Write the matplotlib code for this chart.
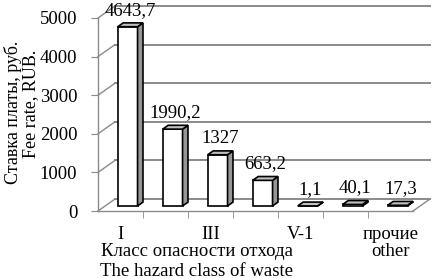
import matplotlib
matplotlib.use("Agg")
import matplotlib.pyplot as plt
from matplotlib.patches import Polygon

categories = ["I", "II", "III", "IV", "V-1", "V-2", "прочие\nother"]
values = [4643.7, 1990.2, 1327, 663.2, 1.1, 40.1, 17.3]
value_labels = ["4643,7", "1990,2", "1327", "663,2", "1,1", "40,1", "17,3"]
yticks = [0, 1000, 2000, 3000, 4000, 5000]

plt.rcParams['font.family'] = ['Liberation Serif', 'DejaVu Serif']
FS = 13.5

W, H = 435, 278
fig = plt.figure(figsize=(W / 100, H / 100), dpi=100)
fig.patch.set_facecolor('white')

# front plane of the pseudo-3D box, in pixels
left_px, right_px, base_px, top_px = 98, 413, 211, 18
ax = fig.add_axes([left_px / W, (H - base_px) / H, (right_px - left_px) / W, (base_px - top_px) / H])
n = len(categories)
x0, x1 = -0.5, n - 0.5
ax.set_xlim(x0, x1)
ax.set_ylim(0, 5000)
ax.patch.set_visible(False)

px_per_cat = (right_px - left_px) / n
px_per_val = (base_px - top_px) / 5000
DX = 17 / px_per_cat
DY = 12 / px_per_val

grid_c = '#8a8a8a'
# back wall gridlines + left wall diagonals
for v in yticks:
    ax.plot([x0 + DX, x1 + DX], [v + DY, v + DY], color=grid_c, lw=1.4, clip_on=False, zorder=1)
    ax.plot([x0, x0 + DX], [v, v + DY], color=grid_c, lw=1.0, clip_on=False, zorder=1)
# floor right edge
ax.plot([x1, x1 + DX], [0, DY], color=grid_c, lw=1.0, clip_on=False, zorder=1)

for s in ['top', 'right']:
    ax.spines[s].set_visible(False)
for s in ['left', 'bottom']:
    ax.spines[s].set_color(grid_c)
    ax.spines[s].set_linewidth(1.0)

# bars
f1, f2 = 0.42, 0.74
bw = 0.44
for i, v in enumerate(values):
    xl = i - bw / 2 + f1 * DX
    xr = xl + bw
    b1 = f1 * DY
    b2 = f2 * DY
    d = (f2 - f1) * DX
    ax.bar(xl, v, width=bw, bottom=b1, align='edge', color='white', edgecolor='black',
           lw=1.2, zorder=3, clip_on=False)
    side = Polygon([(xr, b1), (xr + d, b2), (xr + d, v + b2), (xr, v + b1)], closed=True,
                   facecolor='#969696', edgecolor='black', lw=1.2, zorder=3, clip_on=False)
    top = Polygon([(xl, v + b1), (xr, v + b1), (xr + d, v + b2), (xl + d, v + b2)], closed=True,
                  facecolor='#c0c0c0', edgecolor='black', lw=1.2, zorder=4, clip_on=False)
    ax.add_patch(side)
    ax.add_patch(top)
    ax.annotate(value_labels[i], (xl + bw / 2 + d / 2, v + b2), xytext=(0, 3),
                textcoords='offset points', ha='center', va='bottom', fontsize=FS,
                zorder=5, annotation_clip=False)

ax.set_yticks(yticks)
ax.set_yticklabels([str(t) for t in yticks], fontsize=FS)
ax.tick_params(axis='y', direction='out', length=5, color=grid_c, pad=10)

ax.set_xticks(range(n))
ax.set_xticklabels([c if i % 2 == 0 else '' for i, c in enumerate(categories)], fontsize=FS,
                   linespacing=1.0)
ax.tick_params(axis='x', which='major', length=0, pad=11)
ax.set_xticks([x0 + k for k in range(1, n)], minor=True)
ax.tick_params(axis='x', which='minor', direction='out', length=5, color=grid_c)

fig.text(197 / W, 1 - 251 / H, "Класс опасности отхода", ha='center', va='center', fontsize=FS)
fig.text(197 / W, 1 - 271 / H, "The hazard class of waste", ha='center', va='center', fontsize=FS)
fig.text(13 / W, 1 - 112 / H, "Ставка платы, руб.", ha='center', va='center',
         rotation=90, fontsize=13)
fig.text(31 / W, 1 - 104 / H, "Fee rate, RUB.", ha='center', va='center',
         rotation=90, fontsize=13)

fig.savefig('out.png', dpi=100, facecolor='white')
